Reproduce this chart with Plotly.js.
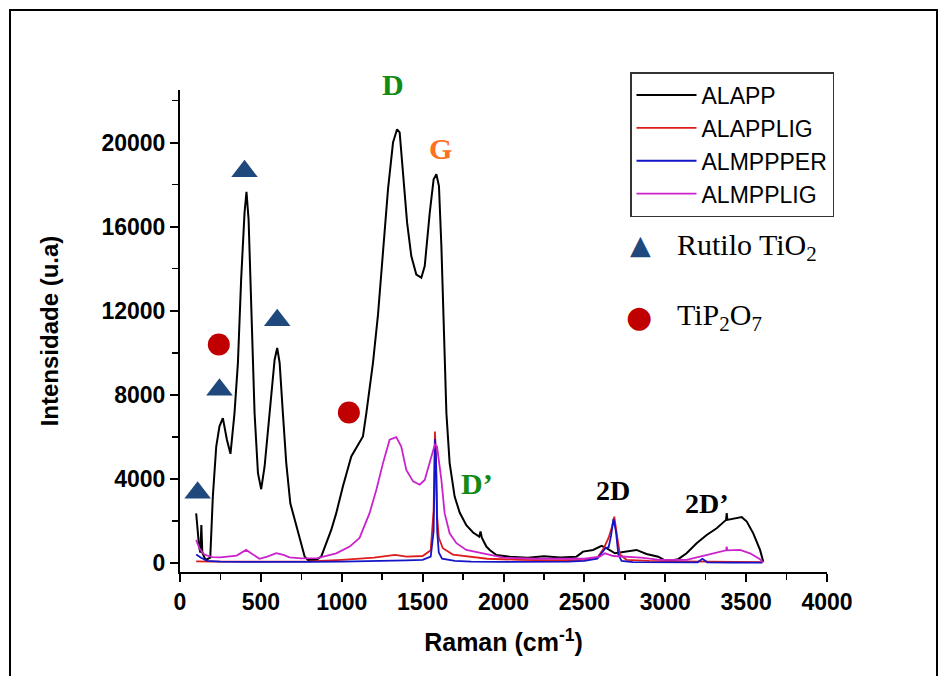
<!DOCTYPE html>
<html>
<head>
<meta charset="utf-8">
<script src="https://cdn.plot.ly/plotly-3.0.1.min.js"></script>
<style>
html,body{margin:0;padding:0;background:#fff;}
#chart{width:945px;height:676px;position:absolute;left:0;top:0;}
#frame{position:absolute;left:9px;top:9px;width:925px;height:690px;border:2px solid #000;pointer-events:none;}
</style>
</head>
<body>
<div id="chart"></div>
<div id="frame"></div>
<script>
// ---- series names ----
const seriesNames = ["ALAPP", "ALAPPLIG", "ALMPPPER", "ALMPPLIG"];

// ---- ALAPP (black) ----
const alappX = [100,110,118,126,132,138,158,187,203,224,244,265,290,312,337,358,378,399,411,424,440,461,482,502,523,554,585,601,616,636,657,682,709,740,771,791,843,873,904,935,966,1007,1059,1110,1131,1152,1193,1224,1255,1286,1317,1342,1358,1379,1404,1430,1461,1492,1513,1544,1568,1585,1601,1616,1630,1647,1667,1698,1729,1770,1812,1850,1858,1862,1866,1894,1915,1956,2039,2150,2250,2350,2451,2492,2554,2606,2637,2689,2761,2822,2884,2957,3008,3080,3132,3194,3256,3318,3376,3380,3384,3442,3473,3504,3544,3586,3606];
const alappY = [2360,1300,780,500,1800,500,140,250,3160,5540,6500,6890,5860,5190,7130,9520,13490,16660,17650,16350,11900,7130,4270,3510,4590,7130,9670,10230,9520,7130,4750,2840,2050,1100,300,140,140,300,940,1570,2370,3640,5070,5700,6020,7130,9520,11800,14760,17780,20000,20630,20480,18570,16190,14600,13720,13570,14120,16660,18250,18490,17930,15070,11100,7130,4750,3160,2400,1800,1450,1250,1500,1250,1200,780,620,380,300,250,320,260,300,540,620,810,700,460,540,620,430,300,80,180,460,940,1330,1650,2050,2370,2050,2130,2180,1970,1410,620,60];

// ---- ALAPPLIG (red) ----
const alappligX = [100,200,400,600,800,1000,1200,1330,1400,1500,1550,1568,1576,1582,1590,1600,1625,1687,1800,1900,2100,2300,2500,2580,2620,2650,2670,2685,2700,2720,2760,2900,3100,3300,3500,3600];
const alappligY = [80,60,60,70,80,150,250,380,300,330,600,2500,6250,5200,2200,1200,700,400,300,200,150,120,150,250,700,1200,1700,2200,1400,400,150,100,80,60,50,40];

// ---- ALMPPPER (blue) ----
const almppperX = [100,130,170,250,400,600,800,1000,1200,1400,1500,1550,1568,1577,1583,1590,1600,1620,1700,1800,2000,2200,2400,2500,2580,2610,2630,2650,2665,2680,2695,2710,2730,2800,3000,3200,3230,3260,3400,3600];
const almppperY = [400,250,100,60,50,40,50,60,80,120,150,300,1500,5900,4800,1500,500,200,100,60,50,40,60,100,200,500,700,750,1300,2100,1500,400,100,40,30,30,200,30,20,20];

// ---- ALMPPLIG (magenta) ----
const almppligX = [100,120,150,200,250,300,350,409,440,491,540,595,640,677,750,850,966,1049,1110,1172,1214,1255,1296,1337,1368,1399,1441,1482,1513,1544,1575,1589,1616,1636,1667,1709,1770,1873,2000,2200,2400,2500,2595,2627,2679,2750,2850,2967,3132,3215,3297,3376,3380,3384,3462,3524,3586,3606];
const almppligY = [1100,700,400,280,270,300,350,620,450,200,300,470,380,270,220,230,460,780,1190,2370,3480,4750,5860,5990,5540,4430,3880,3720,3950,4750,5620,5540,3950,2370,1410,940,620,460,250,200,180,200,300,460,330,300,250,150,150,300,460,600,780,600,620,460,180,20];

// ---- peak markers ----
const rutiloX = [109, 244, 399, 601];
const rutiloY = [3340, 8240, 18630, 11550];
const tip2o7X = [240, 1044];
const tip2o7Y = [10390, 7160];

// ---- labels ----
const bandLabels = ["D", "G", "D\u2019", "2D", "2D\u2019"];
const keyLabels = ["Rutilo TiO<sub>2</sub>", "TiP<sub>2</sub>O<sub>7</sub>"];
const xTickVals = [0,500,1000,1500,2000,2500,3000,3500,4000];
const yTickVals = [0,4000,8000,12000,16000,20000];

const colors = ["#000000", "#dd1c1c", "#1414c8", "#cc22cc"];
const xs = [alappX, alappligX, almppperX, almppligX];
const ys = [alappY, alappligY, almppperY, almppligY];

const traces = seriesNames.map((n, i) => ({
  type: "scatter", mode: "lines", name: n,
  x: xs[i], y: ys[i],
  line: {color: colors[i], width: i === 0 ? 2 : 1.8},
}));
traces.push({
  type: "scatter", mode: "markers", x: rutiloX, y: rutiloY, showlegend: false,
  marker: {symbol: "triangle-up", size: 23, color: "#1f497d"}, cliponaxis: false
});
traces.push({
  type: "scatter", mode: "markers", x: tip2o7X, y: tip2o7Y, showlegend: false,
  marker: {symbol: "circle", size: 22, color: "#c00000"}, cliponaxis: false
});

const serif = "Liberation Serif, Times New Roman, serif";
const sans = "Arial, Liberation Sans, sans-serif";
const green = "#138a13", orange = "#ff7020";

const annotations = [
  {x: 1314, y: 1.0104, yref: "paper", text: "<b>" + bandLabels[0] + "</b>", font: {family: serif, size: 30, color: green}},
  {x: 1610, y: 19740, text: "<b>" + bandLabels[1] + "</b>", font: {family: serif, size: 30, color: orange}},
  {x: 1839, y: 3800, text: "<b>" + bandLabels[2] + "</b>", font: {family: serif, size: 30, color: green}},
  {x: 2674, y: 3470, text: "<b>" + bandLabels[3] + "</b>", font: {family: serif, size: 28, color: "#000"}},
  {x: 3261, y: 2850, text: "<b>" + bandLabels[4] + "</b>", font: {family: serif, size: 28, color: "#000"}},
  {x: 0.7117, y: 0.680, xref: "paper", yref: "paper", text: "\u25B2", font: {family: "DejaVu Sans", size: 27, color: "#1f497d"}},
  {x: 0.7102, y: 0.531, xref: "paper", yref: "paper", text: "\u25CF", font: {family: "DejaVu Sans", size: 30, color: "#c00000"}},
  {x: 0.7643, y: 0.6743, xref: "paper", yref: "paper", xanchor: "left", text: keyLabels[0], font: {family: serif, size: 30, color: "#000"}},
  {x: 0.7643, y: 0.529, xref: "paper", yref: "paper", xanchor: "left", text: keyLabels[1], font: {family: serif, size: 30, color: "#000"}},
].map(a => Object.assign({showarrow: false, xanchor: "center", yanchor: "middle"}, a));

const layout = {
  width: 945, height: 676,
  margin: {l: 180, r: 118, t: 90, b: 104},
  paper_bgcolor: "#fff", plot_bgcolor: "#fff",
  showlegend: true,
  legend: {
    x: (630 - 180) / 647, y: (572 - 72) / 482, xanchor: "left", yanchor: "top",
    bordercolor: "#333", borderwidth: 1.5, bgcolor: "#fff",
    font: {family: sans, size: 23, color: "#000"},
    itemwidth: 60, tracegroupgap: 0, entrywidth: 150
  },
  xaxis: {
    range: [0, 4000], showgrid: false, zeroline: false,
    showline: true, linecolor: "#000", linewidth: 2,
    ticks: "outside", ticklen: 8, tickwidth: 2, tickcolor: "#000",
    tickvals: xTickVals, ticktext: xTickVals.map(String),
    minor: {dtick: 250, tick0: 0, ticks: "outside", ticklen: 6, tickwidth: 1.5, tickcolor: "#000", showgrid: false},
    tickfont: {family: sans, size: 23, color: "#000", weight: "bold"},
    title: {text: "Raman (cm<sup>-1</sup>)", font: {family: sans, size: 25, color: "#000", weight: "bold"}, standoff: 20},
    automargin: false
  },
  yaxis: {
    range: [-430, 22500], showgrid: false, zeroline: false,
    showline: true, linecolor: "#000", linewidth: 2,
    ticks: "outside", ticklen: 8, tickwidth: 2, tickcolor: "#000",
    tickvals: yTickVals, ticktext: yTickVals.map(String),
    minor: {dtick: 2000, tick0: 0, ticks: "outside", ticklen: 6, tickwidth: 1.5, tickcolor: "#000", showgrid: false},
    tickfont: {family: sans, size: 23, color: "#000", weight: "bold"},
    title: {text: "Intensidade (u.a)", font: {family: sans, size: 24, color: "#000", weight: "bold"}, standoff: 36},
    automargin: false
  },
  annotations: annotations
};

Plotly.newPlot("chart", traces, layout, {displayModeBar: false, staticPlot: true});
</script>
</body>
</html>
